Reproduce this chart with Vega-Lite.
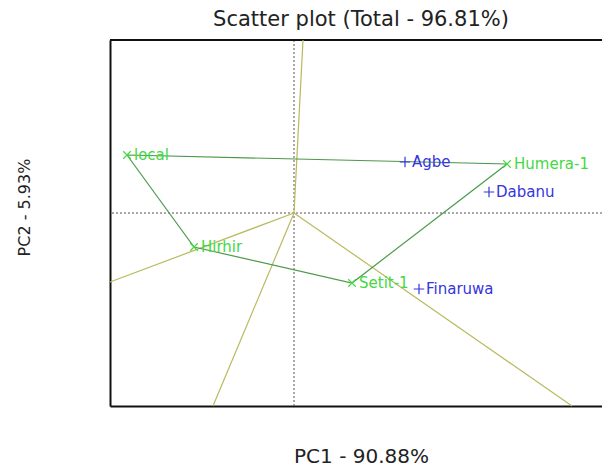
{
  "$schema": "https://vega.github.io/schema/vega-lite/v6.json",
  "width": 492,
  "height": 366,
  "autosize": "none",
  "padding": {"left": 110, "top": 40, "right": 0, "bottom": 60},
  "background": "white",
  "config": {
    "view": {"stroke": null},
    "axis": {"labels": false, "ticks": false, "grid": false, "domain": true, "domainColor": "#111111", "domainWidth": 2, "titleFont": "DejaVu Sans", "titleFontWeight": "normal", "titleColor": "#222222"}
  },
  "title": {"text": "Scatter plot (Total - 96.81%)", "font": "DejaVu Sans", "fontSize": 21, "fontWeight": "normal", "color": "#222222", "anchor": "middle", "offset": 8, "dx": 5},
  "resolve": {"scale": {"color": "independent", "shape": "independent", "size": "independent"}},
  "datasets": {
    "lines": [
      {"group": "ray1", "kind": "ray", "ord": 0, "x": 0, "y": 0},
      {"group": "ray1", "kind": "ray", "ord": 1, "x": 9, "y": 173},
      {"group": "ray2", "kind": "ray", "ord": 0, "x": 0, "y": 0},
      {"group": "ray2", "kind": "ray", "ord": 1, "x": -184, "y": -69},
      {"group": "ray3", "kind": "ray", "ord": 0, "x": 0, "y": 0},
      {"group": "ray3", "kind": "ray", "ord": 1, "x": -81, "y": -193},
      {"group": "ray4", "kind": "ray", "ord": 0, "x": 0, "y": 0},
      {"group": "ray4", "kind": "ray", "ord": 1, "x": 278, "y": -193},
      {"group": "poly", "kind": "poly", "ord": 0, "x": -167, "y": 58},
      {"group": "poly", "kind": "poly", "ord": 1, "x": 213, "y": 49},
      {"group": "poly", "kind": "poly", "ord": 2, "x": 58, "y": -70},
      {"group": "poly", "kind": "poly", "ord": 3, "x": -100, "y": -34},
      {"group": "poly", "kind": "poly", "ord": 4, "x": -167, "y": 58}
    ],
    "points": [
      {"name": "local", "type": "Environment", "x": -167, "y": 58},
      {"name": "Hirhir", "type": "Environment", "x": -100, "y": -34},
      {"name": "Setit-1", "type": "Environment", "x": 58, "y": -70},
      {"name": "Humera-1", "type": "Environment", "x": 213, "y": 49},
      {"name": "Agbe", "type": "Genotype", "x": 111, "y": 51},
      {"name": "Dabanu", "type": "Genotype", "x": 195, "y": 21},
      {"name": "Finaruwa", "type": "Genotype", "x": 125, "y": -76}
    ]
  },
  "layer": [
    {
      "data": {"values": [{"x": 0}]},
      "mark": {"type": "rule", "color": "#555555", "strokeDash": [2, 2], "strokeWidth": 1},
      "encoding": {
        "x": {"field": "x", "type": "quantitative", "scale": {"domain": [-184, 308], "nice": false, "zero": false},
          "axis": {"title": "PC1 - 90.88%", "titleFontSize": 20, "titleY": 56, "titleBaseline": "alphabetic", "titleX": 251}}
      }
    },
    {
      "data": {"values": [{"y": 0}]},
      "mark": {"type": "rule", "color": "#555555", "strokeDash": [2, 2], "strokeWidth": 1},
      "encoding": {
        "y": {"field": "y", "type": "quantitative", "scale": {"domain": [-193, 173], "nice": false, "zero": false},
          "axis": {"title": "PC2 - 5.93%", "titleFontSize": 16, "titleAngle": -90, "titleX": -86, "titleY": 167, "titleBaseline": "middle", "titleAlign": "center"}}
      }
    },
    {
      "data": {"values": [{"top": 173}]},
      "mark": {"type": "rule", "color": "#111111", "strokeWidth": 2},
      "encoding": {
        "y": {"field": "top", "type": "quantitative"}
      }
    },
    {
      "data": {"name": "lines"},
      "mark": {"type": "line", "strokeWidth": 1.2},
      "encoding": {
        "x": {"field": "x", "type": "quantitative"},
        "y": {"field": "y", "type": "quantitative"},
        "detail": {"field": "group"},
        "order": {"field": "ord", "type": "quantitative"},
        "color": {"field": "kind", "type": "nominal", "scale": {"domain": ["ray", "poly"], "range": ["#b9b95f", "#4c9a4c"]}, "legend": null}
      }
    },
    {
      "data": {"name": "points"},
      "mark": {"type": "point", "filled": false, "strokeWidth": 1.2, "opacity": 1},
      "encoding": {
        "x": {"field": "x", "type": "quantitative"},
        "y": {"field": "y", "type": "quantitative"},
        "shape": {"field": "type", "type": "nominal", "scale": {"domain": ["Environment", "Genotype"], "range": ["M-1,-1L1,1M-1,1L1,-1", "M-1,0L1,0M0,-1L0,1"]}, "legend": null},
        "size": {"field": "type", "type": "nominal", "scale": {"domain": ["Environment", "Genotype"], "range": [56, 110]}, "legend": null},
        "color": {"field": "type", "type": "nominal", "scale": {"domain": ["Environment", "Genotype"], "range": ["#44d844", "#3535e0"]}, "legend": null}
      }
    },
    {
      "data": {"name": "points"},
      "mark": {"type": "text", "align": "left", "baseline": "middle", "dx": 7, "font": "DejaVu Sans", "fontSize": 15},
      "encoding": {
        "x": {"field": "x", "type": "quantitative"},
        "y": {"field": "y", "type": "quantitative"},
        "text": {"field": "name"},
        "color": {"field": "type", "type": "nominal", "scale": {"domain": ["Environment", "Genotype"], "range": ["#44d844", "#3535e0"]}, "legend": null}
      }
    }
  ]
}
